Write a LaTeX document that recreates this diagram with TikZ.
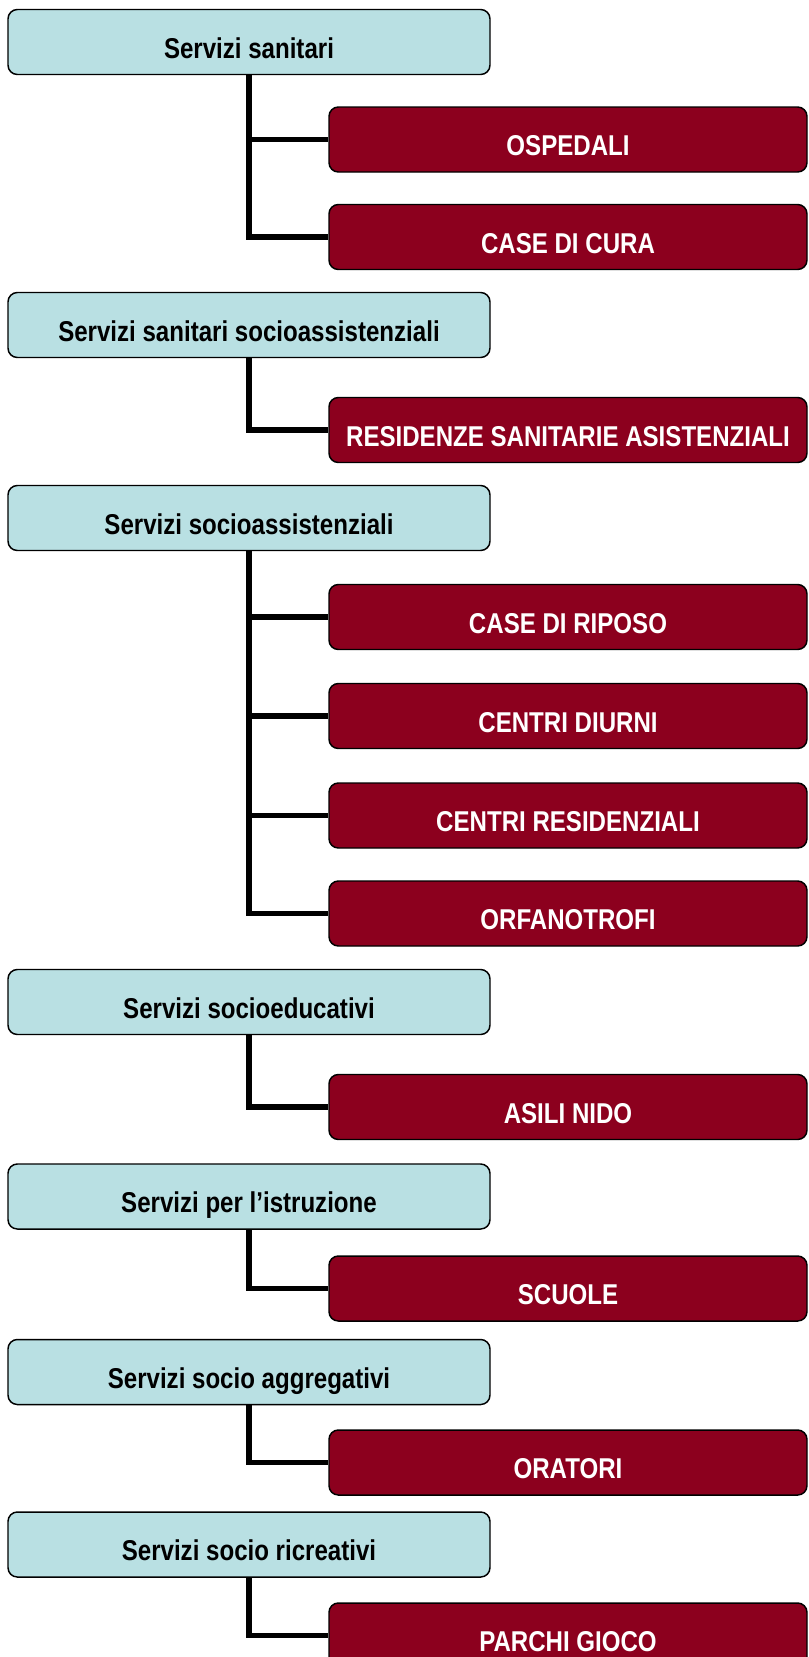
\documentclass[tikz,border=0pt]{standalone}
\usepackage{fontspec}
\newfontfamily\narrowfont{Liberation Sans}[FakeStretch=0.84]
\definecolor{boxblue}{RGB}{185,224,227}
\definecolor{boxred}{RGB}{140,0,30}
\begin{document}
\begin{tikzpicture}[x=0.75pt,y=-0.75pt,
    servizio/.style={draw=black, line width=1.1pt, rounded corners=7pt, fill=boxblue,
        minimum width=361.5pt, minimum height=48.75pt, text height=24pt, text depth=0pt,
        font=\narrowfont\bfseries\fontsize{21.5}{24}\selectfont},
    struttura/.style={servizio, fill=boxred, text=white, minimum width=358.5pt},
    ramo/.style={line width=3.9pt}]
        \useasboundingbox (0,0) rectangle (808,1657);
        % servizi
        \node[servizio] (san) at (249,42) {Servizi sanitari};
        \node[servizio] (sansoc) at (249,325) {Servizi sanitari socioassistenziali};
        \node[servizio] (soc) at (249,518) {Servizi socioassistenziali};
        \node[servizio] (edu) at (249,1002) {Servizi socioeducativi};
        \node[servizio] (istr) at (249,1196.5) {Servizi per l’istruzione};
        \node[servizio] (aggr) at (249,1372) {Servizi socio aggregativi};
        \node[servizio] (ricr) at (249,1544.5) {Servizi socio ricreativi};
        % strutture
        \node[struttura] (osp) at (568,139.5) {OSPEDALI};
        \node[struttura] (cura) at (568,237) {CASE DI CURA};
        \node[struttura] (rsa) at (568,430) {RESIDENZE SANITARIE ASISTENZIALI};
        \node[struttura] (riposo) at (568,617) {CASE DI RIPOSO};
        \node[struttura] (diurni) at (568,716) {CENTRI DIURNI};
        \node[struttura] (resid) at (568,815.5) {CENTRI RESIDENZIALI};
        \node[struttura] (orfan) at (568,913.5) {ORFANOTROFI};
        \node[struttura] (asili) at (568,1107) {ASILI NIDO};
        \node[struttura] (scuole) at (568,1288.5) {SCUOLE};
        \node[struttura] (oratori) at (568,1462.5) {ORATORI};
        \node[struttura] (parchi) at (568,1635.5) {PARCHI GIOCO};
        % rami
        \draw[ramo] (san.south) |- (osp.west);
        \draw[ramo] (san.south) |- (cura.west);
        \draw[ramo] (sansoc.south) |- (rsa.west);
        \draw[ramo] (soc.south) |- (riposo.west);
        \draw[ramo] (soc.south) |- (diurni.west);
        \draw[ramo] (soc.south) |- (resid.west);
        \draw[ramo] (soc.south) |- (orfan.west);
        \draw[ramo] (edu.south) |- (asili.west);
        \draw[ramo] (istr.south) |- (scuole.west);
        \draw[ramo] (aggr.south) |- (oratori.west);
        \draw[ramo] (ricr.south) |- (parchi.west);
\end{tikzpicture}
\end{document}
